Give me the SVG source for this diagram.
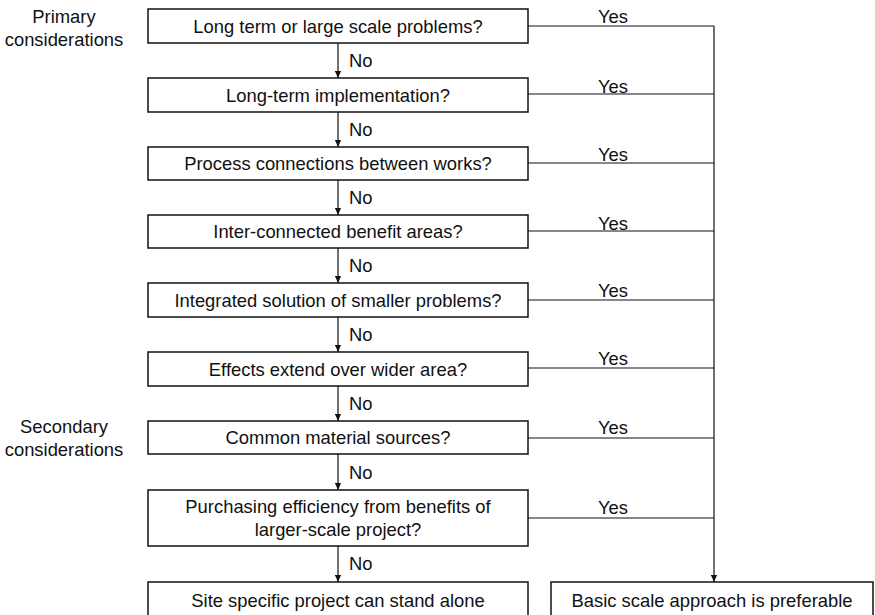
<svg xmlns="http://www.w3.org/2000/svg" width="875" height="615" viewBox="0 0 875 615">
  <style>
    .box { fill: #ffffff; stroke: #111111; stroke-width: 1.5; }
    .lbl { font-family: "Liberation Sans", Arial, sans-serif; font-size: 18.4px; fill: #111111; }
    .mid { text-anchor: middle; }
    .edge { fill: none; stroke: #111111; stroke-width: 1.2; }
    .arrow { fill: none; stroke: #111111; stroke-width: 1.2; marker-end: url(#head); }
  </style>
  <defs>
    <marker id="head" viewBox="0 0 8 8" refX="8" refY="4" markerWidth="7" markerHeight="7" markerUnits="userSpaceOnUse" orient="auto">
      <path d="M0,0.5 L8,4 L0,7.5 Z" fill="#111111"/>
    </marker>
  </defs>
  <rect width="875" height="615" fill="#ffffff"/>

  <!-- side headings -->
  <g id="heading-primary">
    <text class="lbl mid" x="64" y="23">Primary</text>
    <text class="lbl mid" x="64" y="46">considerations</text>
  </g>
  <g id="heading-secondary">
    <text class="lbl mid" x="64" y="433">Secondary</text>
    <text class="lbl mid" x="64" y="456">considerations</text>
  </g>

  <!-- connectors -->
  <g id="connectors">
    <!-- "No" path down the centre -->
    <line class="arrow" x1="338" y1="43" x2="338" y2="78"/>
    <line class="arrow" x1="338" y1="112" x2="338" y2="147"/>
    <line class="arrow" x1="338" y1="180" x2="338" y2="215"/>
    <line class="arrow" x1="338" y1="248" x2="338" y2="283"/>
    <line class="arrow" x1="338" y1="317" x2="338" y2="352"/>
    <line class="arrow" x1="338" y1="386" x2="338" y2="421"/>
    <line class="arrow" x1="338" y1="454" x2="338" y2="490"/>
    <line class="arrow" x1="338" y1="546" x2="338" y2="582"/>
    <!-- "Yes" branches into the collector -->
    <line class="edge" x1="528" y1="26" x2="714" y2="26"/>
    <line class="edge" x1="528" y1="94" x2="714" y2="94"/>
    <line class="edge" x1="528" y1="163" x2="714" y2="163"/>
    <line class="edge" x1="528" y1="231" x2="714" y2="231"/>
    <line class="edge" x1="528" y1="300" x2="714" y2="300"/>
    <line class="edge" x1="528" y1="368" x2="714" y2="368"/>
    <line class="edge" x1="528" y1="438" x2="714" y2="438"/>
    <line class="edge" x1="528" y1="518" x2="714" y2="518"/>
    <line class="arrow" x1="714" y1="26" x2="714" y2="582"/>
    <!-- branch labels -->
    <text class="lbl" x="349" y="67">No</text>
    <text class="lbl" x="349" y="136">No</text>
    <text class="lbl" x="349" y="204">No</text>
    <text class="lbl" x="349" y="272">No</text>
    <text class="lbl" x="349" y="341">No</text>
    <text class="lbl" x="349" y="410">No</text>
    <text class="lbl" x="349" y="479">No</text>
    <text class="lbl" x="349" y="570">No</text>
    <text class="lbl mid" x="613" y="23">Yes</text>
    <text class="lbl mid" x="613" y="93">Yes</text>
    <text class="lbl mid" x="613" y="161">Yes</text>
    <text class="lbl mid" x="613" y="230">Yes</text>
    <text class="lbl mid" x="613" y="297">Yes</text>
    <text class="lbl mid" x="613" y="365">Yes</text>
    <text class="lbl mid" x="613" y="434">Yes</text>
    <text class="lbl mid" x="613" y="514">Yes</text>
  </g>

  <!-- decision boxes -->
  <g id="q1">
    <rect class="box" x="148" y="9" width="380" height="34"/>
    <text class="lbl mid" x="338" y="32.5">Long term or large scale problems?</text>
  </g>
  <g id="q2">
    <rect class="box" x="148" y="78" width="380" height="34"/>
    <text class="lbl mid" x="338" y="101.5">Long-term implementation?</text>
  </g>
  <g id="q3">
    <rect class="box" x="148" y="147" width="380" height="33"/>
    <text class="lbl mid" x="338" y="170">Process connections between works?</text>
  </g>
  <g id="q4">
    <rect class="box" x="148" y="215" width="380" height="33"/>
    <text class="lbl mid" x="338" y="238">Inter-connected benefit areas?</text>
  </g>
  <g id="q5">
    <rect class="box" x="148" y="283" width="380" height="34"/>
    <text class="lbl mid" x="338" y="306.5">Integrated solution of smaller problems?</text>
  </g>
  <g id="q6">
    <rect class="box" x="148" y="352" width="380" height="34"/>
    <text class="lbl mid" x="338" y="375.5">Effects extend over wider area?</text>
  </g>
  <g id="q7">
    <rect class="box" x="148" y="421" width="380" height="33"/>
    <text class="lbl mid" x="338" y="444">Common material sources?</text>
  </g>
  <g id="q8">
    <rect class="box" x="148" y="490" width="380" height="56"/>
    <text class="lbl mid" x="338" y="513">Purchasing efficiency from benefits of</text>
    <text class="lbl mid" x="338" y="536">larger-scale project?</text>
  </g>

  <!-- outcomes -->
  <g id="site-specific">
    <rect class="box" x="148" y="582" width="380" height="40"/>
    <text class="lbl mid" x="338" y="607">Site specific project can stand alone</text>
  </g>
  <g id="basic-scale">
    <rect class="box" x="551" y="582" width="322" height="40"/>
    <text class="lbl mid" x="712" y="607">Basic scale approach is preferable</text>
  </g>
</svg>
